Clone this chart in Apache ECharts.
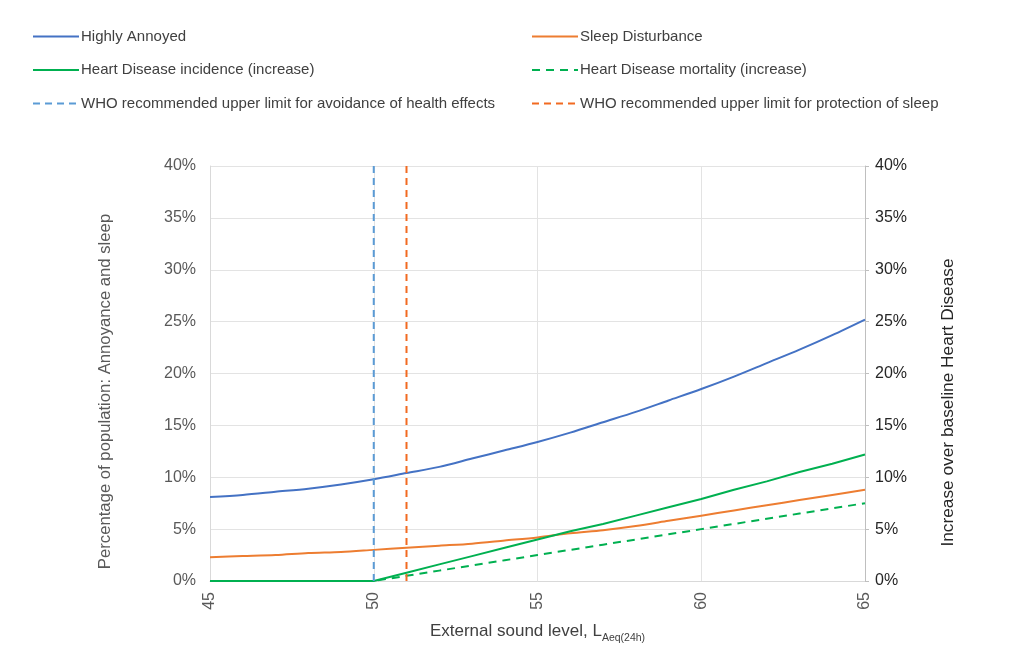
<!DOCTYPE html>
<html>
<head>
<meta charset="utf-8">
<script src="https://cdn.jsdelivr.net/npm/echarts@6/dist/echarts.min.js"></script>
<style>
html,body{margin:0;padding:0;background:#fff;}
#chart{width:1023px;height:669px;}
</style>
</head>
<body>
<div id="chart"></div>
<script>
var soundLevels = [45,46,47,48,49,50,51,52,53,54,55,56,57,58,59,60,61,62,63,64,65];
var highlyAnnoyed = [8.1,8.3,8.6,8.9,9.3,9.8,10.4,11.0,11.8,12.6,13.4,14.3,15.3,16.3,17.4,18.5,19.7,21.0,22.3,23.7,25.2];
var sleepDisturbance = [2.3,2.4,2.5,2.7,2.8,3.0,3.2,3.4,3.6,3.9,4.2,4.6,4.9,5.3,5.8,6.3,6.8,7.3,7.8,8.3,8.8];
var heartIncidence = [0,0,0,0,0,0,0.8,1.6,2.4,3.2,4.0,4.8,5.5,6.3,7.1,7.9,8.8,9.6,10.5,11.3,12.2];
var heartMortality = [0,0,0,0,0,0,0.5,1.0,1.5,2.0,2.5,3.0,3.5,4.0,4.5,5.0,5.5,6.0,6.5,7.0,7.5];
var whoHealthLimit = 50;
var whoSleepLimit = 51;
var yTicks = [0,5,10,15,20,25,30,35,40];
var xTicks = [45,50,55,60,65];

var names = ['Highly Annoyed','Sleep Disturbance','Heart Disease incidence (increase)','Heart Disease mortality (increase)','WHO recommended upper limit for avoidance of health effects','WHO recommended upper limit for protection of sleep'];

function pairs(xs, ys){ return xs.map(function(x,i){ return [x, ys[i]]; }); }

var FONT = 'Liberation Sans, Arial, sans-serif';
var chart = echarts.init(document.getElementById('chart'), null, {renderer:'canvas'});
var legendBase = {
  orient:'vertical', top:29, padding:0, itemWidth:46, itemHeight:14, itemGap:18.5,
  itemStyle:{opacity:0},
  textStyle:{fontFamily:FONT, fontSize:15, color:'#404040', padding:[0,0,0,-3]}
};
var option = {
  backgroundColor:'#fff',
  animation:false,
  legend:[
    Object.assign({}, legendBase, {left:32, data:[names[0],names[2],names[4]]}),
    Object.assign({}, legendBase, {left:531, data:[names[1],names[3],names[5]]})
  ],
  grid:{left:210, right:158, top:166, bottom:88},
  xAxis:{
    type:'value', min:xTicks[0], max:xTicks[xTicks.length-1], interval:5,
    axisLine:{show:true, lineStyle:{color:'#d9d9d9'}},
    axisTick:{show:false},
    splitLine:{show:true, lineStyle:{color:'#e3e3e3'}},
    axisLabel:{rotate:90, color:'#595959', fontSize:16, fontFamily:FONT, margin:11},
    name:'{a|External sound level, L}{b|Aeq(24h)}',
    nameLocation:'middle', nameGap:40,
    nameTextStyle:{
      rich:{
        a:{fontSize:17, color:'#404040', fontFamily:FONT, verticalAlign:'bottom', lineHeight:19},
        b:{fontSize:10.5, color:'#404040', fontFamily:FONT, verticalAlign:'bottom', lineHeight:19, padding:[0,0,-4,0]}
      }
    }
  },
  yAxis:[
    {
      type:'value', min:yTicks[0], max:yTicks[yTicks.length-1], interval:5, position:'left',
      axisLine:{show:true, lineStyle:{color:'#d9d9d9'}},
      axisTick:{show:false},
      splitLine:{show:true, lineStyle:{color:'#e3e3e3'}},
      axisLabel:{formatter:'{value}%', color:'#595959', fontSize:16, fontFamily:FONT, margin:14},
      name:'Percentage of population: Annoyance and sleep',
      nameLocation:'middle', nameGap:96, nameRotate:90,
      nameTextStyle:{fontSize:16.7, color:'#595959', fontFamily:FONT, padding:[0,36,0,0]}
    },
    {
      type:'value', min:yTicks[0], max:yTicks[yTicks.length-1], interval:5, position:'right',
      axisLine:{show:true, lineStyle:{color:'#bfbfbf'}},
      axisTick:{show:true, length:4, lineStyle:{color:'#bfbfbf'}},
      splitLine:{show:false},
      axisLabel:{formatter:'{value}%', color:'#262626', fontSize:16, fontFamily:FONT, margin:10},
      name:'Increase over baseline Heart Disease',
      nameLocation:'middle', nameGap:75, nameRotate:90,
      nameTextStyle:{fontSize:17.3, color:'#262626', fontFamily:FONT, padding:[0,58,0,0]}
    }
  ],
  series:[
    {name:names[0], type:'line', yAxisIndex:0, data:pairs(soundLevels, highlyAnnoyed), smooth:0.3, symbol:'none', color:'#4472C4', lineStyle:{width:2, color:'#4472C4'}},
    {name:names[1], type:'line', yAxisIndex:0, data:pairs(soundLevels, sleepDisturbance), smooth:0.3, symbol:'none', color:'#ED7D31', lineStyle:{width:2, color:'#ED7D31'}},
    {name:names[2], type:'line', yAxisIndex:1, data:pairs(soundLevels, heartIncidence), symbol:'none', color:'#00B050', lineStyle:{width:2, color:'#00B050'}, z:3},
    {name:names[3], type:'line', yAxisIndex:1, data:pairs(soundLevels, heartMortality), symbol:'none', color:'#00B050', lineStyle:{width:2, color:'#00B050', type:[8,6]}, z:2},
    {name:names[4], type:'line', yAxisIndex:0, data:[[whoHealthLimit,yTicks[0]],[whoHealthLimit,yTicks[yTicks.length-1]]], symbol:'none', color:'#5B9BD5', lineStyle:{width:2, color:'#5B9BD5', type:[7,5]}},
    {name:names[5], type:'line', yAxisIndex:0, data:[[whoSleepLimit,yTicks[0]],[whoSleepLimit,yTicks[yTicks.length-1]]], symbol:'none', color:'#F26A21', lineStyle:{width:2, color:'#F26A21', type:[7,5]}}
  ]
};
chart.setOption(option);
</script>
</body>
</html>
